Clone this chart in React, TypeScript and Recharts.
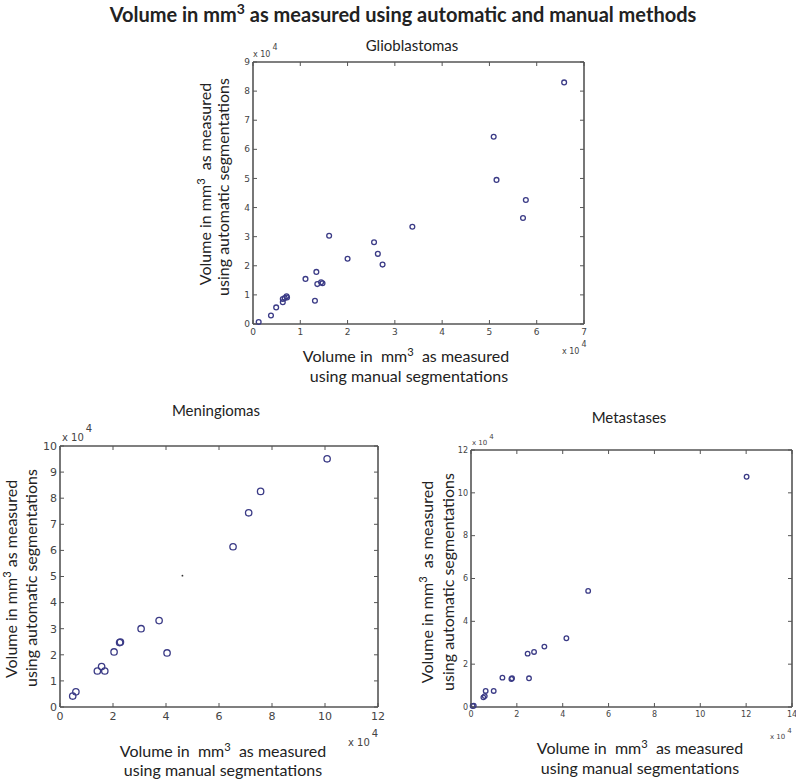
import { ScatterChart, Scatter, XAxis, YAxis } from 'recharts';

// values are in units of 10^4 mm^3, as on the axes
const glioManual = [0.12, 0.38, 0.49, 0.63, 0.63, 0.67, 0.71, 0.72, 1.11, 1.31, 1.34, 1.36, 1.44, 1.47, 1.61, 2.0, 2.56, 2.64, 2.74, 3.37, 5.09, 5.15, 5.71, 5.77, 6.58];
const glioAuto = [0.07, 0.29, 0.57, 0.75, 0.86, 0.89, 0.95, 0.91, 1.55, 0.8, 1.79, 1.37, 1.43, 1.4, 3.03, 2.24, 2.81, 2.41, 2.04, 3.34, 6.43, 4.95, 3.64, 4.26, 8.3];

const meningManual = [0.48, 0.6, 1.41, 1.57, 1.69, 2.04, 2.25, 2.28, 3.06, 3.74, 4.04, 6.53, 7.12, 7.57, 10.08];
const meningAuto = [0.42, 0.58, 1.38, 1.55, 1.38, 2.11, 2.47, 2.49, 3.0, 3.31, 2.07, 6.14, 7.44, 8.26, 9.51];
// the stray dot in the middle of the meningioma panel
const meningStray = [{ x: 4.62, y: 5.03 }];

const metaManual = [0.07, 0.12, 0.54, 0.6, 0.64, 0.99, 1.37, 1.76, 1.79, 2.47, 2.53, 2.75, 3.2, 4.16, 5.11, 12.02];
const metaAuto = [0.05, 0.06, 0.45, 0.51, 0.75, 0.75, 1.37, 1.31, 1.34, 2.49, 1.34, 2.57, 2.82, 3.21, 5.42, 10.75];

const glioXTicks = [0, 1, 2, 3, 4, 5, 6, 7];
const glioYTicks = [0, 1, 2, 3, 4, 5, 6, 7, 8, 9];
const meningXTicks = [0, 2, 4, 6, 8, 10, 12];
const meningYTicks = [0, 1, 2, 3, 4, 5, 6, 7, 8, 9, 10];
const metaXTicks = [0, 2, 4, 6, 8, 10, 12, 14];
const metaYTicks = [0, 2, 4, 6, 8, 10, 12];

const zip = (xs: number[], ys: number[]) => xs.map((x, i) => ({ x, y: ys[i] }));

const AXIS = '#555';
const MARK = '#3b3b86';
const FONT = 'Lato, "Open Sans", sans-serif';
const TICK_FONT = '"DejaVu Sans", sans-serif';

const makeTick = (side: string, fontSize: number, label: boolean) => (props: any) => {
  const { x, y, payload } = props;
  const len = 4;
  let line;
  let text = null;
  if (side === 'bottom') {
    line = <line x1={x} y1={y} x2={x} y2={y - len} stroke={AXIS} />;
    if (label) text = <text x={x} y={y + fontSize + 2} textAnchor="middle" fontSize={fontSize} fill="#444" fontFamily={TICK_FONT}>{payload.value}</text>;
  } else if (side === 'left') {
    line = <line x1={x} y1={y} x2={x + len} y2={y} stroke={AXIS} />;
    if (label) text = <text x={x - 3} y={y + fontSize * 0.35} textAnchor="end" fontSize={fontSize} fill="#444" fontFamily={TICK_FONT}>{payload.value}</text>;
  } else if (side === 'top') {
    line = <line x1={x} y1={y} x2={x} y2={y + len} stroke={AXIS} />;
  } else {
    line = <line x1={x} y1={y} x2={x - len} y2={y} stroke={AXIS} />;
  }
  return <g>{line}{text}</g>;
};

const ringShape = (r: number) => (props: any) => (
  <circle cx={props.cx} cy={props.cy} r={r} fill="none" stroke={MARK} strokeWidth={1.3} />
);

const dotShape = (props: any) => <circle cx={props.cx} cy={props.cy} r={0.9} fill="#333" />;

interface PanelProps {
  left: number;
  top: number;
  width: number;
  height: number;
  margin: { top: number; right: number; bottom: number; left: number };
  xTicks: number[];
  yTicks: number[];
  tickFont: number;
  ring: number;
  data: Array<{ x: number; y: number }>;
  extra?: Array<{ x: number; y: number }>;
}

function Panel({ left, top, width, height, margin, xTicks, yTicks, tickFont, ring, data, extra }: PanelProps) {
  const xDomain = [xTicks[0], xTicks[xTicks.length - 1]];
  const yDomain = [yTicks[0], yTicks[yTicks.length - 1]];
  const axisLine = { stroke: AXIS, strokeWidth: 1.6 };
  // top and right axes take 1px each, so the margins lose 1px there
  const m = { ...margin, top: margin.top - 1, right: margin.right - 1 };
  return (
    <div style={{ position: 'absolute', left, top }}>
      <ScatterChart width={width} height={height} margin={m}>
        <XAxis xAxisId="b" dataKey="x" type="number" domain={xDomain} ticks={xTicks} interval={0} height={20}
          axisLine={axisLine} tickLine={false} tickSize={0} tickMargin={0} tick={makeTick('bottom', tickFont, true)} />
        <XAxis xAxisId="t" orientation="top" dataKey="x" type="number" domain={xDomain} ticks={xTicks} interval={0} height={1}
          axisLine={axisLine} tickLine={false} tickSize={0} tickMargin={0} tick={makeTick('top', tickFont, false)} />
        <YAxis yAxisId="l" dataKey="y" type="number" domain={yDomain} ticks={yTicks} interval={0} width={25}
          axisLine={axisLine} tickLine={false} tickSize={0} tickMargin={0} tick={makeTick('left', tickFont, true)} />
        <YAxis yAxisId="r" orientation="right" dataKey="y" type="number" domain={yDomain} ticks={yTicks} interval={0} width={1}
          axisLine={axisLine} tickLine={false} tickSize={0} tickMargin={0} tick={makeTick('right', tickFont, false)} />
        <Scatter xAxisId="b" yAxisId="l" data={data} shape={ringShape(ring)} isAnimationActive={false} />
        <Scatter xAxisId="t" yAxisId="r" data={data} shape={() => <g />} isAnimationActive={false} />
        {extra && <Scatter xAxisId="b" yAxisId="l" data={extra} shape={dotShape} isAnimationActive={false} />}
      </ScatterChart>
    </div>
  );
}

const Mm3 = () => (
  <>mm<span style={{ fontSize: '0.7em', verticalAlign: 'super', lineHeight: 0 }}>3</span></>
);

function Txt({ x, y, size, rotate, bold, children }: { x: number; y: number; size: number; rotate?: boolean; bold?: boolean; children: any }) {
  return (
    <div
      style={{
        position: 'absolute',
        left: x,
        top: y,
        transform: `translate(-50%, -50%)${rotate ? ' rotate(-90deg)' : ''}`,
        whiteSpace: 'nowrap',
        fontFamily: FONT,
        fontSize: size,
        fontWeight: bold ? 700 : 400,
        color: '#222',
        lineHeight: 1,
      }}
    >
      {children}
    </div>
  );
}

function Exp({ x, y, size }: { x: number; y: number; size: number }) {
  return (
    <div style={{ position: 'absolute', left: x, top: y, fontFamily: TICK_FONT, fontSize: size, color: '#444', whiteSpace: 'nowrap', lineHeight: 1 }}>
      x 10<span style={{ position: 'relative', top: -size * 0.9, left: 2 }}>4</span>
    </div>
  );
}

export default function App() {
  return (
    <div style={{ position: 'absolute', left: 0, top: 0, width: 796, height: 780, background: '#fff', overflow: 'hidden' }}>
      <Txt x={403} y={14} size={20} bold>
        Volume in <Mm3 /> as measured using automatic and manual methods
      </Txt>

      {/* Glioblastomas */}
      <Txt x={412} y={45} size={15}>Glioblastomas</Txt>
      <Panel left={210} top={50} width={390} height={300}
        margin={{ top: 12, right: 16, bottom: 6, left: 18 }}
        xTicks={glioXTicks} yTicks={glioYTicks} tickFont={9} ring={2.4}
        data={zip(glioManual, glioAuto)} />
      <Exp x={253} y={51} size={8} />
      <Exp x={562} y={348} size={8} />
      <Txt x={205} y={184} size={16} rotate>Volume in <Mm3 />&nbsp; as measured</Txt>
      <Txt x={223} y={187} size={16} rotate>using automatic segmentations</Txt>
      <Txt x={406} y={356} size={16}>Volume in&nbsp; <Mm3 />&nbsp; as measured</Txt>
      <Txt x={409} y={376} size={16}>using manual segmentations</Txt>

      {/* Meningiomas */}
      <Txt x={216} y={410} size={15}>Meningiomas</Txt>
      <Panel left={20} top={430} width={380} height={300}
        margin={{ top: 16, right: 22, bottom: 3, left: 15 }}
        xTicks={meningXTicks} yTicks={meningYTicks} tickFont={11} ring={3.2}
        data={zip(meningManual, meningAuto)} extra={meningStray} />
      <Exp x={62} y={433} size={10} />
      <Exp x={348} y={738} size={10} />
      <Txt x={11} y={579} size={16} rotate>Volume in <Mm3 /> as measured</Txt>
      <Txt x={31} y={578} size={16} rotate>using automatic segmentations</Txt>
      <Txt x={223} y={751} size={16}>Volume in&nbsp; <Mm3 />&nbsp; as measured</Txt>
      <Txt x={223} y={770} size={16}>using manual segmentations</Txt>

      {/* Metastases */}
      <Txt x={629} y={417} size={15}>Metastases</Txt>
      <Panel left={440} top={430} width={356} height={300}
        margin={{ top: 20, right: 4, bottom: 3, left: 6 }}
        xTicks={metaXTicks} yTicks={metaYTicks} tickFont={8} ring={2.3}
        data={zip(metaManual, metaAuto)} />
      <Exp x={472} y={440} size={7} />
      <Exp x={770} y={734} size={7} />
      <Txt x={427} y={582} size={16} rotate>Volume in <Mm3 />&nbsp; as measured</Txt>
      <Txt x={448} y={582} size={16} rotate>using automatic segmentations</Txt>
      <Txt x={640} y={748} size={16}>Volume in&nbsp; <Mm3 />&nbsp; as measured</Txt>
      <Txt x={640} y={768} size={16}>using manual segmentations</Txt>
    </div>
  );
}
